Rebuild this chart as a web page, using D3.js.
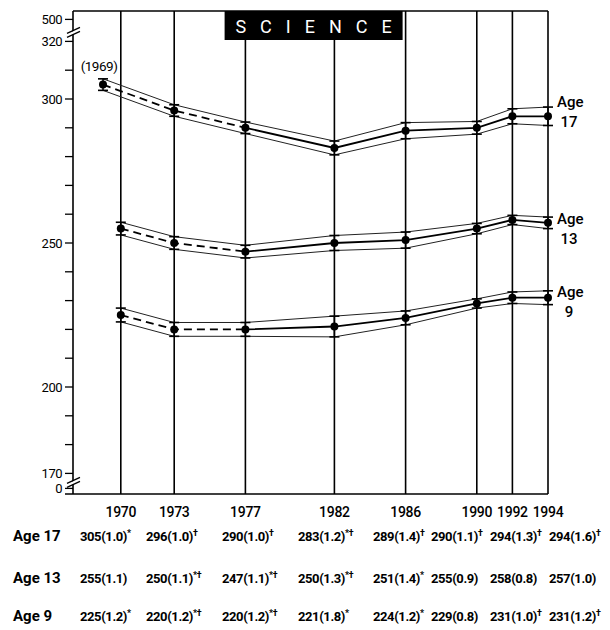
<!DOCTYPE html>
<html><head><meta charset="utf-8">
<script src="https://cdn.jsdelivr.net/npm/d3@7"></script>
<style>
html,body{margin:0;padding:0;background:#fff;}
svg text{font-family:Roboto,"Liberation Sans",sans-serif;fill:#000;}
</style></head>
<body><svg id="c" width="610" height="630"></svg>
<script>
// ---- data ----
const gridYears = [1970,1973,1977,1982,1986,1990,1992,1994];
const age17Years = [1969,1973,1977,1982,1986,1990,1992,1994];
const age17 = [305,296,290,283,289,290,294,294];
const age17se = [1.0,1.0,1.0,1.2,1.4,1.1,1.3,1.6];
const age17flags = ["*","†","†","*†","†","†","†","†"];
const age13Years = [1970,1973,1977,1982,1986,1990,1992,1994];
const age13 = [255,250,247,250,251,255,258,257];
const age13se = [1.1,1.1,1.1,1.3,1.4,0.9,0.8,1.0];
const age13flags = ["","*†","*†","*†","*","","",""];
const age9Years = [1970,1973,1977,1982,1986,1990,1992,1994];
const age9 = [225,220,220,221,224,229,231,231];
const age9se = [1.2,1.2,1.2,1.8,1.2,0.8,1.0,1.2];
const age9flags = ["*","*†","*†","*","*","","†","†"];
const seriesNames = ["17","13","9"];
const yTickLabels = [170,200,250,300,320];
const title = "SCIENCE";

// ---- layout ----
const svg = d3.select("#c");
const x = d3.scaleLinear().domain([1969,1994]).range([103,548]);
const y = d3.scaleLinear().domain([170,320]).range([473.4,41.4]);
const axisX = 73, topY = 11, botY = 494;
const colStart = [80,146,222,298,373,431,490,549];
const rowY = [541,583,621];
const labelOffsets = [-14,-4,-6];

const series = [
  {name:seriesNames[0], yrs:age17Years, v:age17, se:age17se, f:age17flags},
  {name:seriesNames[1], yrs:age13Years, v:age13, se:age13se, f:age13flags},
  {name:seriesNames[2], yrs:age9Years, v:age9, se:age9se, f:age9flags}
];

// frame lines
svg.append("line").attr("x1",axisX).attr("x2",x(1994)).attr("y1",topY).attr("y2",topY)
  .attr("stroke","#000").attr("stroke-width",1.6);
svg.append("line").attr("x1",65).attr("x2",x(1994)).attr("y1",botY).attr("y2",botY)
  .attr("stroke","#000").attr("stroke-width",1.6);
// year vertical lines
svg.selectAll(".vl").data(gridYears).join("line")
  .attr("x1",d=>x(d)).attr("x2",d=>x(d)).attr("y1",topY).attr("y2",botY)
  .attr("stroke","#000").attr("stroke-width",1.6);

// y axis
svg.append("line").attr("x1",axisX).attr("x2",axisX).attr("y1",topY).attr("y2",botY)
  .attr("stroke","#000").attr("stroke-width",1.6);
const minor = d3.range(170,321,10);
svg.selectAll(".mt").data(minor).join("line")
  .attr("x1",65).attr("x2",axisX).attr("y1",d=>y(d)).attr("y2",d=>y(d))
  .attr("stroke","#000").attr("stroke-width",1.3);
svg.selectAll(".yl").data(yTickLabels).join("text")
  .attr("x",62).attr("y",d=>y(d)+4.5).attr("text-anchor","end")
  .attr("font-size",13).attr("letter-spacing","-0.5px").text(d=>d);
// broken extremes
const y500 = y(320)-22, y0 = y(170)+15;
[[500,y500],[0,y0]].forEach(([v,py])=>{
  svg.append("line").attr("x1",65).attr("x2",axisX).attr("y1",py).attr("y2",py)
    .attr("stroke","#000").attr("stroke-width",1.3);
  svg.append("text").attr("x",62).attr("y",py+4.5).attr("text-anchor","end")
    .attr("font-size",13).attr("letter-spacing","-0.5px").text(v);
});
// break marks
[y(320)-11, y(170)+7].forEach(by=>{
  svg.append("polygon")
    .attr("points",`${axisX-5},${by+3} ${axisX+6},${by-2} ${axisX+6},${by+1} ${axisX-5},${by+6}`)
    .attr("fill","#fff");
  svg.append("line").attr("x1",axisX-6).attr("x2",axisX+7).attr("y1",by+3).attr("y2",by-3)
    .attr("stroke","#000").attr("stroke-width",1.3);
  svg.append("line").attr("x1",axisX-6).attr("x2",axisX+7).attr("y1",by+7).attr("y2",by+1)
    .attr("stroke","#000").attr("stroke-width",1.3);
});

// title box
const boxR = x(1986)-3, boxW = 178;
svg.append("rect").attr("x",boxR-boxW).attr("y",topY).attr("width",boxW).attr("height",29).attr("fill","#000");
svg.append("text").attr("x",boxR-boxW/2+7).attr("y",topY+22).attr("text-anchor","middle")
  .attr("font-size",18).attr("letter-spacing","14px").style("fill","#fff").text(title);

// series
series.forEach((s,si)=>{
  const pts = s.v.map((v,i)=>({yr:s.yrs[i], v, lo:v-2*s.se[i], hi:v+2*s.se[i]}));
  const g = svg.append("g");
  ["hi","lo"].forEach(k=>{
    g.append("path").datum(pts)
      .attr("d",d3.line().x(d=>x(d.yr)).y(d=>y(d[k])))
      .attr("fill","none").attr("stroke","#222").attr("stroke-width",1);
  });
  g.selectAll(".eb").data(pts).join("line")
    .attr("x1",d=>x(d.yr)).attr("x2",d=>x(d.yr)).attr("y1",d=>y(d.lo)).attr("y2",d=>y(d.hi))
    .attr("stroke","#000").attr("stroke-width",1.5);
  ["hi","lo"].forEach(k=>{
    g.selectAll(".cap"+k).data(pts).join("line")
      .attr("x1",d=>x(d.yr)-5).attr("x2",d=>x(d.yr)+5).attr("y1",d=>y(d[k])).attr("y2",d=>y(d[k]))
      .attr("stroke","#000").attr("stroke-width",1.6);
  });
  const line = d3.line().x(d=>x(d.yr)).y(d=>y(d.v));
  g.append("path").datum(pts.slice(0,3)).attr("d",line)
    .attr("fill","none").attr("stroke","#000").attr("stroke-width",1.8).attr("stroke-dasharray","8,5");
  g.append("path").datum(pts.slice(2)).attr("d",line)
    .attr("fill","none").attr("stroke","#000").attr("stroke-width",1.8);
  g.selectAll(".dot").data(pts).join("circle")
    .attr("cx",d=>x(d.yr)).attr("cy",d=>y(d.v)).attr("r",4).attr("fill","#000");
  const last = pts[pts.length-1];
  const ly = y(last.v)+labelOffsets[si];
  svg.append("text").attr("x",x(1994)+9).attr("y",ly+5).attr("font-size",15).attr("font-weight",500).text("Age");
  svg.append("text").attr("x",x(1994)+21).attr("y",ly+25).attr("text-anchor","middle").attr("font-size",15).attr("font-weight",500).text(s.name);
});

// (1969) label
svg.append("text").attr("x",x(1969)-4).attr("y",y(age17[0])-14).attr("text-anchor","middle")
  .attr("font-size",13.5).attr("letter-spacing","-0.5px").text("(1969)");

// year labels
svg.selectAll(".xl").data(gridYears).join("text")
  .attr("x",d=>x(d)).attr("y",517).attr("text-anchor","middle")
  .attr("font-size",14).attr("font-weight",500).attr("letter-spacing","-0.3px").text(d=>d);

// table
series.forEach((s,si)=>{
  svg.append("text").attr("x",13).attr("y",rowY[si]).attr("font-size",15).attr("font-weight","bold")
    .text("Age "+s.name);
  s.v.forEach((v,i)=>{
    const t = svg.append("text").attr("x",colStart[i]).attr("y",rowY[si])
      .attr("font-size",13).attr("font-weight","bold").attr("letter-spacing","-0.4px");
    t.append("tspan").text(v+"("+s.se[i].toFixed(1)+")");
    if(s.f[i]) t.append("tspan").attr("dy",-5).attr("font-size",9).text(s.f[i]);
  });
});
</script></body></html>
